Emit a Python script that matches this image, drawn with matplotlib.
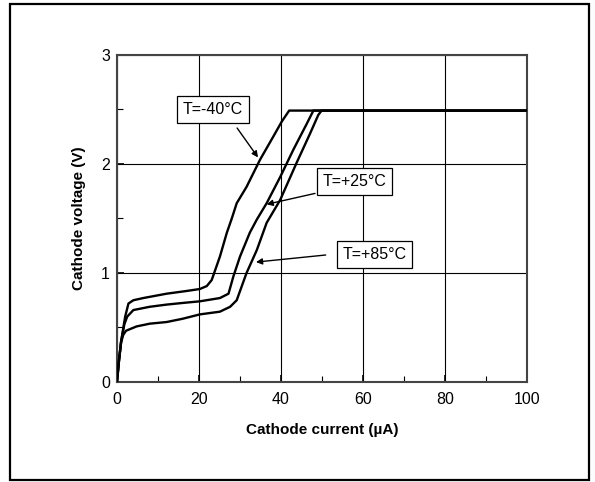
import matplotlib
matplotlib.use("Agg")
import matplotlib.pyplot as plt
from matplotlib.patches import Rectangle
from matplotlib.ticker import MultipleLocator

plt.rcParams['font.family'] = ['Liberation Sans', 'DejaVu Sans']

# cathode current (uA) / cathode voltage (V)
i_m40 = [0, 0.5, 1.0, 2.0, 2.8, 4.0, 6.4, 12.1, 17, 20.2, 21.9, 23.1, 25.1, 26.8, 28.0,
         29.2, 31.6, 34.9, 38.1, 40.2, 42.0, 100]
v_m40 = [0, 0.2, 0.37, 0.6, 0.72, 0.75, 0.77, 0.81, 0.835, 0.853, 0.88, 0.935, 1.15, 1.37, 1.50,
         1.64, 1.79, 2.04, 2.25, 2.39, 2.49, 2.49]

i_p25 = [0, 0.5, 1.0, 1.8, 2.5, 4.0, 8, 12.1, 16, 20.2, 25.1, 27.2, 28.4, 30.0, 32.4, 34.1,
         36.5, 39.8, 43.0, 46.3, 47.9, 100]
v_p25 = [0, 0.2, 0.37, 0.53, 0.60, 0.66, 0.69, 0.71, 0.725, 0.74, 0.77, 0.81, 0.97, 1.15, 1.37, 1.49,
         1.64, 1.88, 2.13, 2.37, 2.49, 2.49]

i_p85 = [0, 0.5, 1.0, 1.5, 2.2, 4.8, 8, 12.1, 16, 20.2, 25.1, 27.6, 29.2, 31.6, 34.1, 36.5,
         39.8, 43.8, 47.1, 49.1, 49.9, 100]
v_p85 = [0, 0.2, 0.36, 0.43, 0.47, 0.51, 0.535, 0.55, 0.58, 0.62, 0.645, 0.69, 0.75, 1.00, 1.21, 1.46,
         1.67, 2.01, 2.28, 2.45, 2.49, 2.49]

labels = ['T=-40°C', 'T=+25°C', 'T=+85°C']
label_pos = [(23.4, 2.50), (57.9, 1.84), (62.8, 1.17)]
arrow_tail = [(29.3, 2.33), (48.3, 1.73), (50.9, 1.165)]
arrow_head = [(34.4, 2.06), (36.5, 1.63), (33.9, 1.10)]

fig = plt.figure(figsize=(5.95, 4.82), dpi=100)
ax = fig.add_axes([0.1966, 0.2075, 0.6891, 0.6784])

for xs, ys in [(i_m40, v_m40), (i_p25, v_p25), (i_p85, v_p85)]:
    ax.plot(xs, ys, color='black', lw=1.7, solid_joinstyle='round', zorder=3)

ax.set_xlim(0, 100)
ax.set_ylim(0, 3)
ax.xaxis.set_major_locator(MultipleLocator(20))
ax.xaxis.set_minor_locator(MultipleLocator(10))
ax.yaxis.set_major_locator(MultipleLocator(1))
ax.yaxis.set_minor_locator(MultipleLocator(0.5))
ax.grid(True, which='major', color='black', lw=0.8)
ax.tick_params(which='both', direction='in', labelsize=11.5, color='black')
ax.tick_params(which='major', length=5, width=1.2)
ax.tick_params(which='minor', length=4, width=0.8)
ax.tick_params(axis='x', pad=7)
ax.tick_params(axis='y', pad=5)
for sp in ax.spines.values():
    sp.set_color('#444444')
    sp.set_linewidth(1.5)

ax.set_xlabel('Cathode current (µA)', fontsize=11, fontweight='bold', labelpad=12)
ax.set_ylabel('Cathode voltage (V)', fontsize=11, fontweight='bold', labelpad=11)

for txt, pos, tail, head in zip(labels, label_pos, arrow_tail, arrow_head):
    ax.text(pos[0], pos[1], txt, fontsize=11.5, ha='center', va='center', zorder=5,
            bbox=dict(boxstyle='square,pad=0.35', fc='white', ec='black', lw=0.9))
    ax.annotate('', xy=head, xytext=tail, zorder=4,
                arrowprops=dict(arrowstyle='-|>', color='black', lw=1.0,
                                mutation_scale=9, shrinkA=0, shrinkB=0))

fig.patches.append(Rectangle((10 / 595, 2 / 482), 579 / 595, 476 / 482,
                             transform=fig.transFigure, fill=False,
                             ec='black', lw=1.6))

fig.savefig('out.png', dpi=100)
